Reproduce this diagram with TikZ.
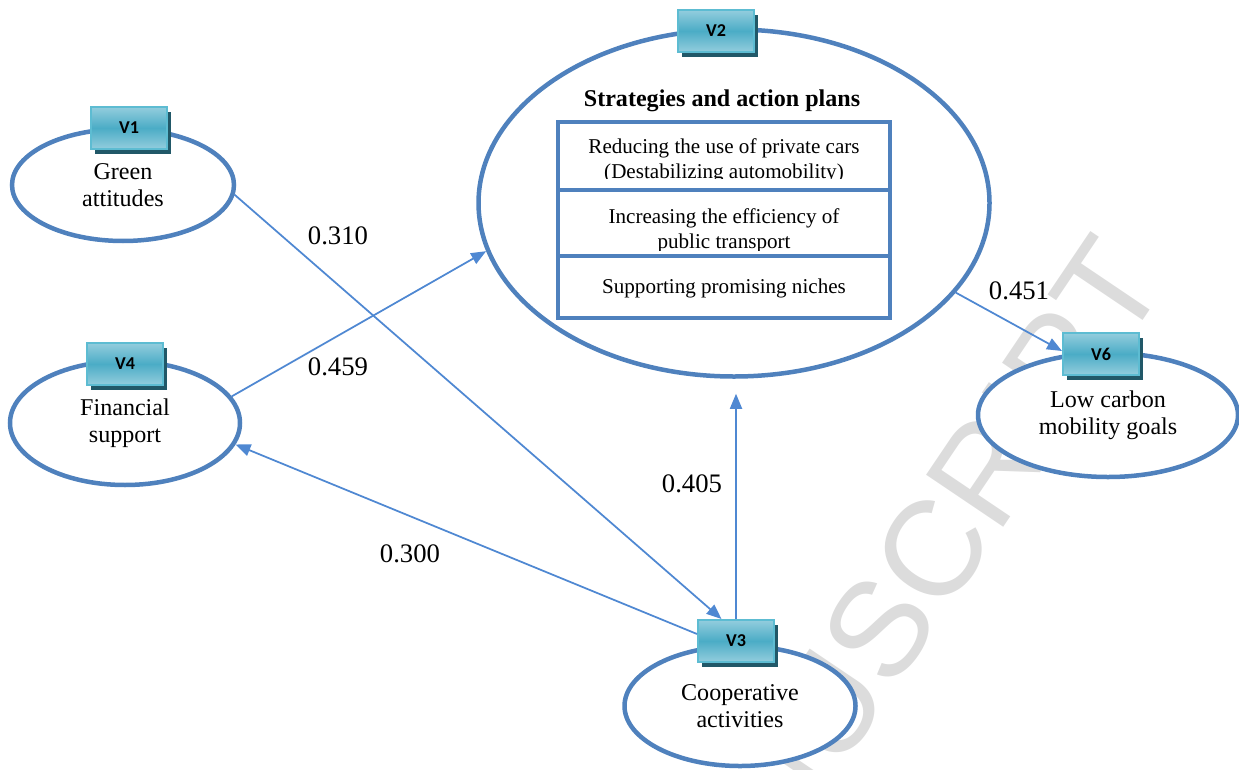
\documentclass[tikz,border=0pt]{standalone}
\usepackage{fontspec}
\setmainfont{Liberation Serif}
\newfontfamily\calibri{Carlito}
\newfontfamily\arial{Liberation Sans}
\usepackage{tikz}
\usetikzlibrary{arrows.meta,shapes.geometric,shadows}

\definecolor{ringblue}{HTML}{4F81BD}
\definecolor{linkblue}{HTML}{4F88D2}
\definecolor{tealtop}{HTML}{93CDDD}
\definecolor{tealmid}{HTML}{4BACC6}
\definecolor{tealedge}{HTML}{5DBCD2}
\definecolor{tealshade}{HTML}{215868}
\definecolor{stampgray}{HTML}{DCDCDC}

\begin{document}
\begin{tikzpicture}[x=0.2mm,y=-0.2mm,>={Triangle[length=3mm,width=2.4mm]},
blob/.style={ellipse,draw=ringblue,line width=0.9mm,fill=white,inner sep=0pt,align=center,font=\fontsize{13.7}{15.4}\selectfont},
vbox/.style={rectangle,draw=tealedge,line width=0.4mm,top color=tealtop,bottom color=tealtop,middle color=tealmid,minimum width=15.2mm,minimum height=8.4mm,inner sep=0pt,font=\calibri\bfseries\fontsize{10.3}{11}\selectfont,drop shadow={shadow xshift=0.8mm,shadow yshift=-1mm,fill=tealshade,opacity=1}},
link/.style={->,draw=linkblue,line width=0.35mm},
coef/.style={font=\fontsize{15.2}{17}\selectfont,inner sep=0pt},
cell/.style={align=center,font=\fontsize{12}{14.2}\selectfont,inner sep=0pt},
stamp/.style={text=stampgray,rotate=56,anchor=base,font=\arial\fontsize{77}{77}\selectfont}]
\useasboundingbox (0,0) rectangle (1239,769);
% watermark behind everything
\node[stamp] (wm) at (920,652) {MANUSCRIPT};
% latent variables
\node[blob,minimum width=44.4mm,minimum height=22.4mm] (v1) at (123,185) {Green\\attitudes};
\node[blob,minimum width=46mm,minimum height=24.8mm] (v4) at (125,423) {Financial\\support};
\node[blob,minimum width=102.2mm,minimum height=69.4mm] (v2) at (734,203) {};
\node[blob,minimum width=46.2mm,minimum height=24mm] (v3) at (740,706) {Cooperative\\activities};
\node[blob,minimum width=52mm,minimum height=24.8mm] (v6) at (1108,415) {Low carbon\\mobility goals};
% strategies table
\node[font=\bfseries\fontsize{13.7}{15}\selectfont] (plans) at (722,101) {Strategies and action plans};
\begin{scope}
\clip (560,124) rectangle (888,179);
\node[cell] (row1) at (724,161) {Reducing the use of private cars\\(Destabilizing automobility)};
\end{scope}
\begin{scope}
\clip (560,192) rectangle (888,250);
\node[cell] (row2) at (724,231) {Increasing the efficiency of\\public transport};
\end{scope}
\node[cell] (row3) at (724,288) {Supporting promising niches};
\draw[ringblue,line width=0.8mm] (558,122) rectangle (890,318)
(558,190) -- (890,190) (558,256) -- (890,256);
% tags
\node[vbox] (v1tag) at (129,128) {V1};
\node[vbox] (v4tag) at (125,364) {V4};
\node[vbox] (v2tag) at (716,31) {V2};
\node[vbox] (v3tag) at (736,641) {V3};
\node[vbox] (v6tag) at (1101,354) {V6};
% paths
\coordinate (v2foot) at ([yshift=-3mm]v2.south);
\draw[link] (v1.-5) -- ([xshift=-2.9mm]v3tag.north);
\draw[link] (v4.14) -- (v2.191);
\draw[link] ([yshift=1.4mm]v3tag.west) -- (v4.-11);
\draw[link] (v3tag.north) -- (v3tag.north |- v2foot);
\draw[link] (v2.-22) -- ([yshift=0.6mm]v6tag.west);
\node[coef] (c310) at (338,236) {0.310};
\node[coef] (c459) at (338,367) {0.459};
\node[coef] (c300) at (410,554) {0.300};
\node[coef] (c405) at (692,484) {0.405};
\node[coef] (c451) at (1019,291) {0.451};
\end{tikzpicture}
\end{document}
